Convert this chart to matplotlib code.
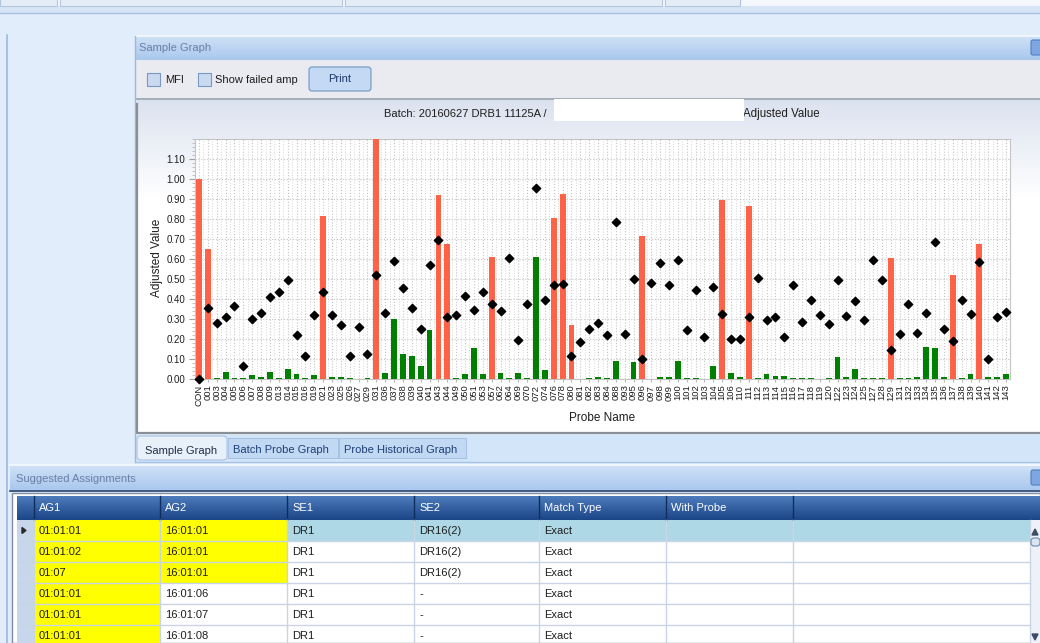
"""Sample Graph screen: adjusted value per probe, with the assignment grid below."""
import matplotlib
import numpy as np

matplotlib.use("Agg")
import matplotlib.pyplot as plt  # noqa: E402
from matplotlib.patches import FancyBboxPatch, Rectangle  # noqa: E402
from matplotlib.ticker import FixedLocator, FormatStrFormatter, MultipleLocator  # noqa: E402

plt.rcParams["font.family"] = ["Liberation Sans", "DejaVu Sans"]

W, H = 1040, 643

PROBES = ["CON", "001", "003", "004", "005", "006", "007", "008", "009", "013",
          "014", "015", "016", "019", "021", "023", "025", "026", "027", "029",
          "031", "036", "037", "038", "039", "040", "041", "043", "044", "049",
          "050", "051", "053", "057", "062", "064", "069", "070", "072", "074",
          "076", "078", "080", "081", "082", "083", "084", "088", "093", "095",
          "096", "097", "098", "099", "100", "101", "102", "103", "104", "105",
          "106", "110", "111", "112", "113", "114", "115", "116", "117", "118",
          "119", "120", "122", "123", "124", "125", "127", "128", "129", "131",
          "132", "133", "134", "135", "136", "137", "138", "139", "140", "141",
          "142", "143"]
BAR_VALUES = [1.00, 0.648, 0.003, 0.037, 0.003, 0.003, 0.02, 0.012, 0.037, 0.005,
              0.052, 0.025, 0.003, 0.02, 0.815, 0.012, 0.012, 0.003, 0.0, 0.003,
              1.20, 0.032, 0.30, 0.127, 0.117, 0.063, 0.243, 0.92, 0.673, 0.003,
              0.027, 0.153, 0.027, 0.61, 0.032, 0.005, 0.032, 0.005, 0.61, 0.043,
              0.805, 0.927, 0.268, 0.0, 0.005, 0.012, 0.005, 0.09, 0.0, 0.085,
              0.715, 0.0, 0.012, 0.012, 0.09, 0.005, 0.005, 0.0, 0.063, 0.895,
              0.032, 0.012, 0.863, 0.005, 0.027, 0.017, 0.017, 0.005, 0.005, 0.005,
              0.0, 0.005, 0.112, 0.012, 0.048, 0.005, 0.005, 0.005, 0.605, 0.005,
              0.005, 0.012, 0.158, 0.153, 0.012, 0.52, 0.005, 0.027, 0.673, 0.012,
              0.012, 0.027]
POINT_VALUES = [0.00, 0.353, 0.278, 0.31, 0.363, 0.063, 0.30, 0.332, 0.41, 0.437,
                0.495, 0.222, 0.117, 0.32, 0.437, 0.32, 0.268, 0.117, 0.258, 0.127,
                0.522, 0.332, 0.59, 0.453, 0.353, 0.248, 0.568, 0.695, 0.31, 0.32,
                0.417, 0.343, 0.437, 0.375, 0.338, 0.605, 0.195, 0.375, 0.957, 0.395,
                0.468, 0.473, 0.117, 0.185, 0.248, 0.278, 0.222, 0.783, 0.227, 0.50,
                0.10, 0.48, 0.58, 0.468, 0.595, 0.243, 0.443, 0.212, 0.458, 0.327,
                0.20, 0.20, 0.312, 0.507, 0.295, 0.312, 0.212, 0.468, 0.285, 0.395,
                0.322, 0.275, 0.495, 0.317, 0.39, 0.295, 0.595, 0.495, 0.143, 0.227,
                0.375, 0.232, 0.332, 0.683, 0.248, 0.19, 0.395, 0.327, 0.585, 0.10,
                0.312, 0.337]
POSITIVE_PROBES = ["CON", "001", "021", "031", "043", "044", "057", "076", "078",
                   "080", "096", "105", "111", "129", "137", "140"]
Y_TICKS = [0.0, 0.1, 0.2, 0.3, 0.4, 0.5, 0.6, 0.7, 0.8, 0.9, 1.0, 1.1]

# assignment grid
COLUMNS = ["AG1", "AG2", "SE1", "SE2", "Match Type", "With Probe"]
AG1 = ["01:01:01", "01:01:02", "01:07", "01:01:01", "01:01:01", "01:01:01"]
AG2 = ["16:01:01", "16:01:01", "16:01:01", "16:01:06", "16:01:07", "16:01:08"]
SE1 = ["DR1", "DR1", "DR1", "DR1", "DR1", "DR1"]
SE2 = ["DR16(2)", "DR16(2)", "DR16(2)", "-", "-", "-"]
MATCH = ["Exact", "Exact", "Exact", "Exact", "Exact", "Exact"]
AG2_HIGHLIGHT = [True, True, True, False, False, False]


def vgrad(ax, x0, x1, y0, y1, top, bottom, z=0):
    c0 = np.array(matplotlib.colors.to_rgb(top))
    c1 = np.array(matplotlib.colors.to_rgb(bottom))
    t = np.linspace(0, 1, 64)[:, None]
    img = (c0 * (1 - t) + c1 * t)[:, None, :]
    ax.imshow(img, extent=(x0, x1, y1, y0), aspect="auto", origin="upper",
              zorder=z, interpolation="bilinear")


def box(ax, x0, y0, x1, y1, fc, ec="none", lw=1.0, z=1):
    ax.add_patch(Rectangle((x0, y0), x1 - x0, y1 - y0, fc=fc, ec=ec, lw=lw,
                           zorder=z))


fig = plt.figure(figsize=(W / 100, H / 100), dpi=100)
bg = fig.add_axes([0, 0, 1, 1])
bg.axis("off")

# window background and top tab strip
box(bg, 0, 0, W, H, "#e1edfa", z=0)
box(bg, 0, 0, W, 6, "#f4f7fb", z=1)
for x0, x1 in [(0, 57), (60, 342), (345, 662), (665, 740)]:
    box(bg, x0, -2, x1, 6, "#e4ecf6", ec="#b3c6de", lw=0.8, z=2)
box(bg, 0, 6, W, 13, "#d6e5f6", z=1)
bg.plot([0, W], [13, 13], color="#a7c1e3", lw=1, zorder=3)
bg.plot([7, 7], [35, H], color="#9db8dd", lw=1.2, zorder=3)

# Sample Graph panel
vgrad(bg, 135, W, 36, 60, "#cfe1f6", "#a9c8ee", z=1)
bg.plot([135, W], [36, 36], color="#f5f9fe", lw=1.2, zorder=2)
bg.plot([135, 135], [36, 462], color="#9fb9dc", lw=1, zorder=2)
bg.text(139, 48, "Sample Graph", fontsize=8, color="#6a7fa6", va="center",
        zorder=3)
bg.add_patch(FancyBboxPatch((1031, 40), 12, 15, boxstyle="round,pad=0,rounding_size=2",
                            fc="#7ea7e2", ec="#4f7fc2", lw=0.8, zorder=3))
box(bg, 136, 60, W, 98, "#e9ebf0", z=1)
for cx in (147, 198):
    box(bg, cx, 73, cx + 13, 86, "#c9daf0", ec="#7b98c2", lw=0.8, z=3)
bg.text(165, 80, "MFI", fontsize=8, color="#1e1e1e", va="center", zorder=3)
bg.text(215, 80, "Show failed amp", fontsize=8, color="#1e1e1e", va="center",
        zorder=3)
bg.add_patch(FancyBboxPatch((309, 67), 62, 24, boxstyle="round,pad=0,rounding_size=3",
                            fc="#c4d9f3", ec="#7c9dc9", lw=0.9, zorder=3))
bg.text(340, 79, "Print", fontsize=8, color="#1e3a6a", ha="center", va="center",
        zorder=4)

# chart canvas
vgrad(bg, 137, W, 99, 200, "#dbe2ef", "#ffffff", z=1)
box(bg, 137, 200, W, 433, "#ffffff", z=1)
bg.plot([137, 137, W], [104, 433, 433], color="#8a8f96", lw=1.6, zorder=2)
bg.plot([137, W], [99, 99], color="#9aa3ae", lw=1.2, zorder=2)
bg.text(384, 114, "Batch: 20160627 DRB1 11125A /", fontsize=8, color="#1e1e1e",
        va="center", zorder=3)
bg.text(820, 114, "Adjusted Value", fontsize=8.3, color="#1e1e1e", va="center",
        ha="right", zorder=3)
box(bg, 554, 99, 744, 121, "#ffffff", z=4)
bg.text(157, 258, "Adjusted Value", fontsize=8.5, color="#1e1e1e", rotation=90,
        ha="center", va="center", zorder=3)
bg.text(602, 418, "Probe Name", fontsize=8.5, color="#1e1e1e", ha="center",
        va="center", zorder=3)

# graph tabs
box(bg, 136, 435, W, 462, "#d3e5f8", z=1)
bg.plot([136, W], [462, 462], color="#a6c2e6", lw=1, zorder=2)
for (x0, x1), label in zip([(228, 338), (339, 466)],
                           ["Batch Probe Graph", "Probe Historical Graph"]):
    box(bg, x0, 438, x1, 458, "#c2d9f3", ec="#a9c3e4", lw=0.8, z=2)
    bg.text(x0 + 5, 450, label, fontsize=8, color="#1f3f78", va="center", zorder=3)
bg.add_patch(FancyBboxPatch((137, 436), 90, 24, boxstyle="round,pad=0,rounding_size=4",
                            fc="#e8f0fa", ec="#a9c3e4", lw=0.8, zorder=2))
bg.text(145, 451, "Sample Graph", fontsize=8, color="#1e2e48", va="center", zorder=3)

# Suggested Assignments panel
bg.plot([10, W], [465, 465], color="#f5f9fe", lw=1.2, zorder=2)
vgrad(bg, 10, W, 466, 490, "#cfe1f6", "#a9c8ee", z=1)
bg.plot([10, W], [491, 491], color="#27406a", lw=1.2, zorder=2)
bg.text(16, 479, "Suggested Assignments", fontsize=8, color="#6a7fa6", va="center",
        zorder=3)
bg.add_patch(FancyBboxPatch((1031, 470), 12, 15, boxstyle="round,pad=0,rounding_size=2",
                            fc="#7ea7e2", ec="#4f7fc2", lw=0.8, zorder=3))
box(bg, 12, 493, W, H, "#ffffff", ec="#7f8ea3", lw=1, z=1)

col_x = [34, 160, 287, 414, 539, 666, 793, 1030]
row_y = [520, 541, 562, 583, 604, 625, 646]
vgrad(bg, 17, 1030, 496, 520, "#4d7cbd", "#1b4586", z=2)
for x in col_x[:-1]:
    bg.plot([x, x], [496, 520], color="#0f2e5e", lw=1, zorder=3)
for x, name in zip(col_x, COLUMNS):
    bg.text(x + 5, 508, name, fontsize=8, color="#ffffff", va="center", zorder=4)
vgrad(bg, 1030, W, 496, 520, "#4d7cbd", "#1b4586", z=2)

box(bg, 17, 520, 34, H, "#c7d6ea", z=2)
box(bg, 287, 520, 1030, 541, "#aed8e6", z=2)
for i in range(len(AG1)):
    y0, y1 = row_y[i], row_y[i + 1]
    yc = (y0 + y1) / 2 + 0.5
    box(bg, 34, y0, 160, y1, "#ffff00", z=2)
    if AG2_HIGHLIGHT[i]:
        box(bg, 160, y0, 287, y1, "#ffff00", z=2)
    for x, val in zip(col_x, [AG1[i], AG2[i], SE1[i], SE2[i], MATCH[i]]):
        bg.text(x + 5, yc, val, fontsize=8, color="#1e1e1e", va="center", zorder=4)
    bg.plot([17, 1030], [y1, y1], color="#c9d5e5", lw=1, zorder=3)
for x in col_x:
    bg.plot([x, x], [520, H], color="#c9d5e5", lw=1, zorder=3)
bg.fill([22, 22, 26], [527.5, 533.5, 530.5], color="#2b2b2b", zorder=4)
box(bg, 1030, 520, W, H, "#eef2f8", z=2)
bg.fill([1032, 1038, 1035], [535, 535, 529], color="#3d4d66", zorder=4)
bg.fill([1032, 1038, 1035], [634, 634, 640], color="#3d4d66", zorder=4)
bg.add_patch(FancyBboxPatch((1031, 538), 9, 8, boxstyle="round,pad=0,rounding_size=3",
                            fc="#dce6f3", ec="#6d87ad", lw=0.8, zorder=4))

bg.set_xlim(0, W)
bg.set_ylim(H, 0)

# the chart itself
ax = fig.add_axes([195 / W, 1 - 379 / H, (1010 - 195) / W, (379 - 139) / H])
x = np.arange(len(PROBES))
colors = ["#ff6347" if p in POSITIVE_PROBES else "#008000" for p in PROBES]
ax.bar(x, BAR_VALUES, width=0.66, color=colors, zorder=3)
ax.scatter(x, POINT_VALUES, marker="D", s=18, color="black", zorder=4,
           clip_on=False)
ax.set_xlim(-0.45, len(PROBES) - 0.55)
ax.set_ylim(0, 1.2)
ax.set_xticks(x)
ax.set_xticklabels(PROBES, rotation=90, fontsize=6.8, color="#1e1e1e")
ax.xaxis.set_minor_locator(FixedLocator(x[:-1] + 0.5))
ax.yaxis.set_major_locator(FixedLocator(Y_TICKS))
ax.yaxis.set_major_formatter(FormatStrFormatter("%.2f"))
ax.yaxis.set_minor_locator(MultipleLocator(0.02))
ax.tick_params(axis="y", labelsize=7, labelcolor="#1e1e1e", length=4,
               color="#a0a0a0", pad=3)
ax.tick_params(axis="y", which="minor", length=2, color="#b8b8b8")
ax.tick_params(axis="x", length=2, color="#b8b8b8", pad=2)
ax.tick_params(axis="x", which="minor", length=0)
ax.grid(True, axis="both", which="major", color="#c4c4c4", ls=":", lw=0.8, zorder=0)
ax.grid(True, axis="x", which="minor", color="#d6d6d6", ls=":", lw=0.7, zorder=0)
ax.axhline(1.2, color="#c8c8c8", ls=":", lw=0.8, zorder=0)
for s in ax.spines.values():
    s.set_color("#c4c4c4")
ax.set_axisbelow(True)

fig.savefig("out.png", dpi=100)
